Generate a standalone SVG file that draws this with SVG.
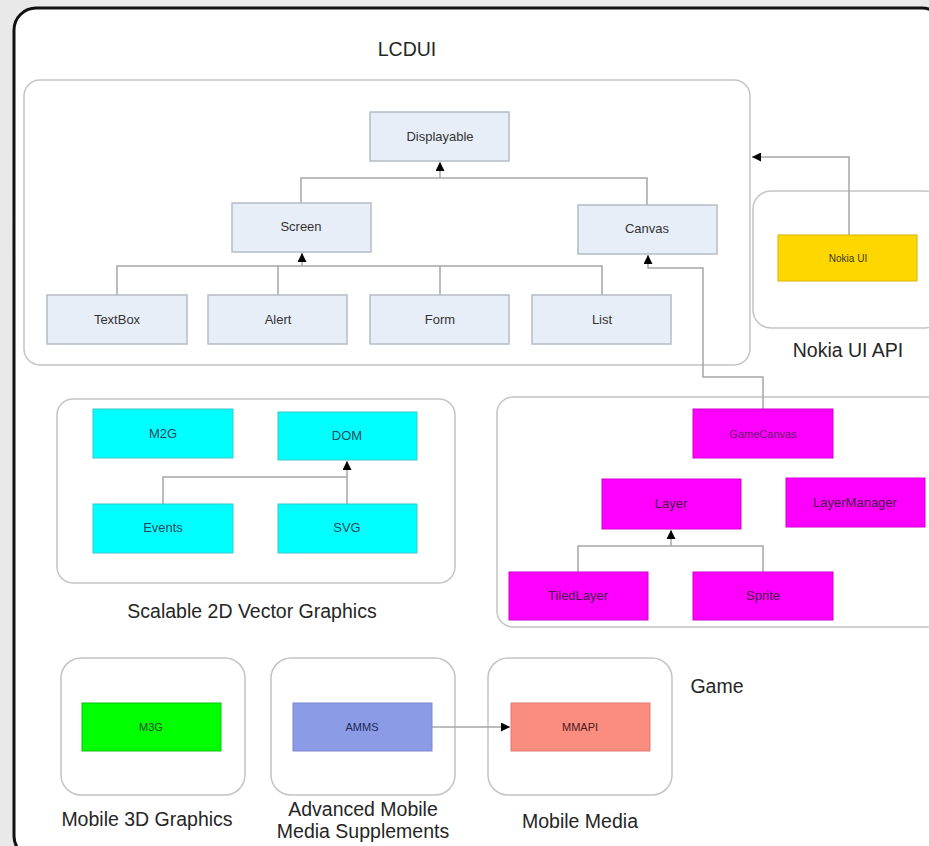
<svg xmlns="http://www.w3.org/2000/svg" width="929" height="846" viewBox="0 0 929 846">
<style>
.cont{fill:#ffffff;stroke:#c4c4c4;stroke-width:1.5}
.lbl{font-family:"Liberation Sans",Arial,sans-serif;font-size:19.5px;fill:#262626;text-anchor:middle}
.nt{font-family:"Liberation Sans",Arial,sans-serif;font-size:13px;fill:#333;text-anchor:middle}
.lc{fill:#e8eef8;stroke:#b4bcc6;stroke-width:1.5}
.cy{fill:#00ffff;stroke:#3cc8c8;stroke-width:1}
.mg{fill:#ff00ff;stroke:#d000d0;stroke-width:1}
.cn{fill:none;stroke:#a6a6a6;stroke-width:1.5}
</style>
<defs>
<marker id="ah" viewBox="0 0 10 10" refX="10" refY="5" markerWidth="10" markerHeight="9" markerUnits="userSpaceOnUse" orient="auto">
<path d="M0,0 L10,5 L0,10 z" fill="#000"/>
</marker>
</defs>
<rect x="0" y="0" width="929" height="846" fill="#e9e9e9"/>
<rect id="frame" x="14" y="8" width="930" height="850" rx="22" fill="#ffffff" stroke="#111" stroke-width="3"/>

<g id="lcdui">
<rect class="cont" x="24" y="80" width="726" height="285" rx="16"/>
<text class="lbl" x="407" y="56">LCDUI</text>
</g>
<g id="nokia-api">
<rect class="cont" x="753" y="191" width="190" height="137" rx="18"/>
<text class="lbl" x="848" y="357">Nokia UI API</text>
</g>
<g id="svg-group">
<rect class="cont" x="57" y="399" width="398" height="184" rx="16"/>
<text class="lbl" x="252" y="618">Scalable 2D Vector Graphics</text>
</g>
<g id="game-group">
<rect class="cont" x="497" y="397" width="445" height="230" rx="16"/>
<text class="lbl" x="717" y="693">Game</text>
</g>
<g id="m3d-group">
<rect class="cont" x="61" y="658" width="184" height="137" rx="20"/>
<text class="lbl" x="147" y="826">Mobile 3D Graphics</text>
</g>
<g id="amms-group">
<rect class="cont" x="271" y="658" width="184" height="137" rx="20"/>
<text class="lbl" x="363" y="816">Advanced Mobile</text>
<text class="lbl" x="363" y="838">Media Supplements</text>
</g>
<g id="mm-group">
<rect class="cont" x="488" y="658" width="184" height="137" rx="20"/>
<text class="lbl" x="580" y="828">Mobile Media</text>
</g>

<g id="connectors">
<polyline class="cn" points="301,203 301,178 647,178 647,205"/>
<line class="cn" x1="440" y1="178" x2="440" y2="162" marker-end="url(#ah)"/>
<polyline class="cn" points="117,295 117,266 602,266 602,295"/>
<line class="cn" x1="278" y1="266" x2="278" y2="295"/>
<line class="cn" x1="440" y1="266" x2="440" y2="295"/>
<line class="cn" x1="302" y1="266" x2="302" y2="253" marker-end="url(#ah)"/>
<polyline class="cn" points="763,410 763,377 703,377 703,268 648,268 648,255" marker-end="url(#ah)"/>
<polyline class="cn" points="849,235 849,157 752,157" marker-end="url(#ah)"/>
<polyline class="cn" points="163,504 163,477 347,477"/>
<line class="cn" x1="347" y1="504" x2="347" y2="461" marker-end="url(#ah)"/>
<polyline class="cn" points="578,572 578,546 763,546 763,572"/>
<line class="cn" x1="671" y1="546" x2="671" y2="530" marker-end="url(#ah)"/>
<line class="cn" x1="432" y1="727" x2="510" y2="727" marker-end="url(#ah)"/>
</g>

<g id="displayable"><rect class="lc" x="370" y="112" width="139" height="49"/><text class="nt" x="440" y="141">Displayable</text></g>
<g id="screen"><rect class="lc" x="232" y="203" width="139" height="49"/><text class="nt" x="301" y="231">Screen</text></g>
<g id="canvas"><rect class="lc" x="578" y="205" width="139" height="49"/><text class="nt" x="647" y="233">Canvas</text></g>
<g id="textbox"><rect class="lc" x="47" y="295" width="140" height="49"/><text class="nt" x="117" y="324">TextBox</text></g>
<g id="alert"><rect class="lc" x="208" y="295" width="139" height="49"/><text class="nt" x="278" y="324">Alert</text></g>
<g id="form"><rect class="lc" x="370" y="295" width="139" height="49"/><text class="nt" x="440" y="324">Form</text></g>
<g id="list"><rect class="lc" x="532" y="295" width="139" height="49"/><text class="nt" x="602" y="324">List</text></g>

<g id="nokia-ui"><rect x="778" y="235" width="139" height="46" fill="#ffd700" stroke="#d8b400" stroke-width="1"/><text class="nt" x="848" y="262" style="font-size:10px;fill:#3a3a20">Nokia UI</text></g>

<g id="m2g"><rect class="cy" x="93" y="409" width="140" height="49"/><text class="nt" x="163" y="438" style="fill:#2a4a5a">M2G</text></g>
<g id="dom"><rect class="cy" x="278" y="412" width="139" height="48"/><text class="nt" x="347" y="440" style="fill:#2a4a5a">DOM</text></g>
<g id="events"><rect class="cy" x="93" y="504" width="140" height="49"/><text class="nt" x="163" y="532" style="fill:#2a4a5a">Events</text></g>
<g id="svg"><rect class="cy" x="278" y="504" width="139" height="49"/><text class="nt" x="347" y="532" style="fill:#2a4a5a">SVG</text></g>

<g id="gamecanvas"><rect class="mg" x="693" y="409" width="140" height="49"/><text class="nt" x="763" y="438" style="fill:#6a1a6a;font-size:11px">GameCanvas</text></g>
<g id="layer"><rect class="mg" x="602" y="479" width="139" height="50"/><text class="nt" x="671" y="508" style="fill:#4a1a4a">Layer</text></g>
<g id="layermanager"><rect class="mg" x="786" y="478" width="139" height="49"/><text class="nt" x="855" y="507" style="fill:#4a1a4a">LayerManager</text></g>
<g id="tiledlayer"><rect class="mg" x="509" y="572" width="139" height="48"/><text class="nt" x="578" y="600" style="fill:#4a1a4a">TiledLayer</text></g>
<g id="sprite"><rect class="mg" x="693" y="572" width="140" height="48"/><text class="nt" x="763" y="600" style="fill:#4a1a4a">Sprite</text></g>

<g id="m3g"><rect x="82" y="703" width="139" height="48" fill="#00ff00" stroke="#10c010" stroke-width="1"/><text class="nt" x="151" y="731" style="font-size:11px;fill:#2a4a2a">M3G</text></g>
<g id="amms"><rect x="293" y="703" width="139" height="48" fill="#8c9be6" stroke="#7a88d0" stroke-width="1"/><text class="nt" x="362" y="731" style="font-size:11px;fill:#1a2a5a">AMMS</text></g>
<g id="mmapi"><rect x="511" y="703" width="139" height="48" fill="#fa8c80" stroke="#e07a70" stroke-width="1"/><text class="nt" x="580" y="731" style="font-size:11px;fill:#4a1a1a">MMAPI</text></g>
</svg>
